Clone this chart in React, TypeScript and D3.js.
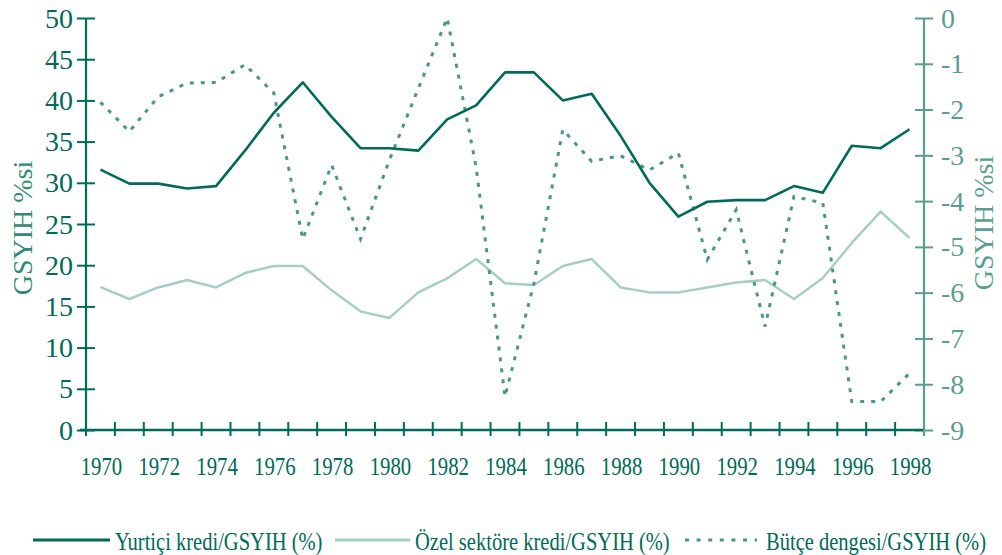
import React, { useEffect, useRef } from "react";
import * as d3 from "d3";

// Data
const years = d3.range(1970, 1999);
const yurticiKredi = [31.6, 29.9, 29.9, 29.3, 29.6, 33.9, 38.5, 42.2, 38.0, 34.2, 34.2, 33.9, 37.7, 39.4, 43.4, 43.4, 40.0, 40.8, 35.7, 30.0, 25.9, 27.7, 27.9, 27.9, 29.6, 28.8, 34.5, 34.2, 36.5];
const ozelKredi = [17.35, 15.9, 17.3, 18.2, 17.3, 19.05, 19.9, 19.9, 16.95, 14.4, 13.6, 16.7, 18.4, 20.75, 17.8, 17.6, 19.9, 20.75, 17.3, 16.7, 16.7, 17.3, 17.9, 18.2, 15.9, 18.45, 22.7, 26.5, 23.3];
const butceDengesi = [-1.84, -2.48, -1.72, -1.42, -1.41, -1.02, -1.64, -4.83, -3.21, -4.83, -3.1, -1.54, 0, -3.25, -8.27, -5.8, -2.44, -3.13, -3.01, -3.32, -2.95, -5.28, -4.19, -6.74, -3.9, -4.04, -8.38, -8.38, -7.76];
const leftTicks = [0, 5, 10, 15, 20, 25, 30, 35, 40, 45, 50];
const rightTicks = [0, -1, -2, -3, -4, -5, -6, -7, -8, -9];
const xLabels = years.filter((y) => y % 2 === 0);
const legendItems = ["Yurtiçi kredi/GSYIH (%)", "Özel sektöre kredi/GSYIH (%)", "Bütçe dengesi/GSYIH (%)"];

const DARK = "#006b56";
const LIGHT = "#a7cec5";
const MID = "#4a9787";
const RIGHT = "#5a9e8f";
const FONT = "'Liberation Serif', 'DejaVu Serif', serif";

const App = () => {
  const svgRef = useRef(null);
  const width = 1002;
  const height = 555;

  useEffect(() => {
    const margin = { top: 18, right: 78, bottom: 125, left: 86 };

    d3.select(svgRef.current).selectAll("*").remove();

    const svg = d3
      .select(svgRef.current)
      .attr("viewBox", `0 0 ${width} ${height}`)
      .style("width", `${width}px`)
      .style("height", `${height}px`)
      .style("font-family", FONT);

    // Scales
    const xScale = d3
      .scaleBand()
      .domain(years.map(String))
      .range([margin.left, width - margin.right])
      .padding(0);

    const yLeft = d3
      .scaleLinear()
      .domain([0, 50])
      .range([height - margin.bottom, margin.top]);

    const yRight = d3
      .scaleLinear()
      .domain([-9, 0])
      .range([height - margin.bottom, margin.top]);

    const cx = (i) => xScale(String(years[i])) + xScale.bandwidth() / 2;
    const baseY = height - margin.bottom;
    const rightX = width - margin.right;

    // Left axis
    svg
      .append("g")
      .attr("transform", `translate(${margin.left},0)`)
      .call(d3.axisLeft(yLeft).tickValues(leftTicks).tickSize(9).tickFormat(""))
      .call((g) => g.select(".domain").attr("stroke", DARK).attr("stroke-width", 2.2).attr("d", `M0,${yLeft(0)}V${yLeft(50)}`))
      .call((g) => g.selectAll(".tick line").attr("stroke", DARK).attr("stroke-width", 2).attr("x1", -9).attr("x2", 9));

    svg
      .append("g")
      .selectAll("text")
      .data(leftTicks)
      .join("text")
      .attr("x", margin.left - 13)
      .attr("y", (d) => yLeft(d) + 9.5)
      .attr("text-anchor", "end")
      .style("font-size", "28px")
      .style("fill", DARK)
      .text((d) => d);

    // Right axis
    svg
      .append("g")
      .attr("transform", `translate(${rightX},0)`)
      .call(d3.axisRight(yRight).tickValues(rightTicks).tickSize(9).tickFormat(""))
      .call((g) => g.select(".domain").attr("stroke", RIGHT).attr("stroke-width", 2.2).attr("d", `M0,${yRight(-9) + 6}V${yRight(0)}`))
      .call((g) => g.selectAll(".tick line").attr("stroke", RIGHT).attr("stroke-width", 2).attr("x1", -9).attr("x2", 9));

    svg
      .append("g")
      .selectAll("text")
      .data(rightTicks)
      .join("text")
      .attr("x", rightX + 17)
      .attr("y", (d) => yRight(d) + 9.5)
      .attr("text-anchor", "start")
      .style("font-size", "28px")
      .style("fill", RIGHT)
      .text((d) => d);

    // Bottom axis
    const bounds = years.map((y) => xScale(String(y))).concat([rightX]);
    const xAxis = svg.append("g");
    xAxis
      .append("line")
      .attr("x1", margin.left - 6)
      .attr("x2", rightX)
      .attr("y1", baseY)
      .attr("y2", baseY)
      .attr("stroke", DARK)
      .attr("stroke-width", 2.5);
    xAxis
      .selectAll("line.tick")
      .data(bounds)
      .join("line")
      .attr("class", "tick")
      .attr("x1", (d) => d)
      .attr("x2", (d) => d)
      .attr("y1", baseY - 8)
      .attr("y2", baseY + 6)
      .attr("stroke", (d, i) => (i === bounds.length - 1 ? RIGHT : DARK))
      .attr("stroke-width", 2);

    xAxis
      .selectAll("text")
      .data(xLabels)
      .join("text")
      .attr("transform", (d) => `translate(${xScale(String(d)) + xScale.bandwidth() / 2 + 1},${baseY + 45}) scale(0.8,1)`)
      .attr("text-anchor", "middle")
      .style("font-size", "26px")
      .style("fill", DARK)
      .text((d) => d);

    // Axis titles
    svg
      .append("text")
      .attr("transform", `translate(32,228) rotate(-90)`)
      .attr("text-anchor", "middle")
      .style("font-size", "28px")
      .style("fill", "#2f8a73")
      .text("GSYIH %si");

    svg
      .append("text")
      .attr("transform", `translate(993,223) rotate(-90)`)
      .attr("text-anchor", "middle")
      .style("font-size", "28px")
      .style("fill", RIGHT)
      .text("GSYIH %si");

    // Lines
    const lineLeft = d3
      .line()
      .x((d, i) => cx(i))
      .y((d) => yLeft(d));
    const lineRight = d3
      .line()
      .x((d, i) => cx(i))
      .y((d) => yRight(d));

    svg
      .append("path")
      .datum(ozelKredi)
      .attr("d", lineLeft)
      .attr("fill", "none")
      .attr("stroke", LIGHT)
      .attr("stroke-width", 2.5)
      .attr("stroke-linejoin", "round");

    svg
      .append("path")
      .datum(butceDengesi)
      .attr("d", lineRight)
      .attr("fill", "none")
      .attr("stroke", MID)
      .attr("stroke-width", 3)
      .attr("stroke-dasharray", "4,7");

    svg
      .append("path")
      .datum(yurticiKredi)
      .attr("d", lineLeft)
      .attr("fill", "none")
      .attr("stroke", DARK)
      .attr("stroke-width", 2.6)
      .attr("stroke-linejoin", "round");

    // Legend
    const legendY = 540;
    const legendPos = [
      { x1: 33, x2: 110, tx: 115, color: DARK, dash: null, sw: 3 },
      { x1: 335, x2: 410, tx: 415, color: LIGHT, dash: null, sw: 3 },
      { x1: 685, x2: 757, tx: 766, color: MID, dash: "4,7.6", sw: 3 },
    ];
    const legend = svg.append("g");
    legend
      .selectAll("line")
      .data(legendPos)
      .join("line")
      .attr("x1", (d) => d.x1)
      .attr("x2", (d) => d.x2)
      .attr("y1", legendY)
      .attr("y2", legendY)
      .attr("stroke", (d) => d.color)
      .attr("stroke-width", (d) => d.sw)
      .attr("stroke-dasharray", (d) => d.dash);
    legend
      .selectAll("text")
      .data(legendItems)
      .join("text")
      .attr("transform", (d, i) => `translate(${legendPos[i].tx},${legendY + 10}) scale(0.79,1)`)
      .style("font-size", "26px")
      .style("fill", DARK)
      .text((d) => d);
  }, []);

  return <svg ref={svgRef} style={{ position: "absolute", left: 0, top: 0 }}></svg>;
};

export default App;
